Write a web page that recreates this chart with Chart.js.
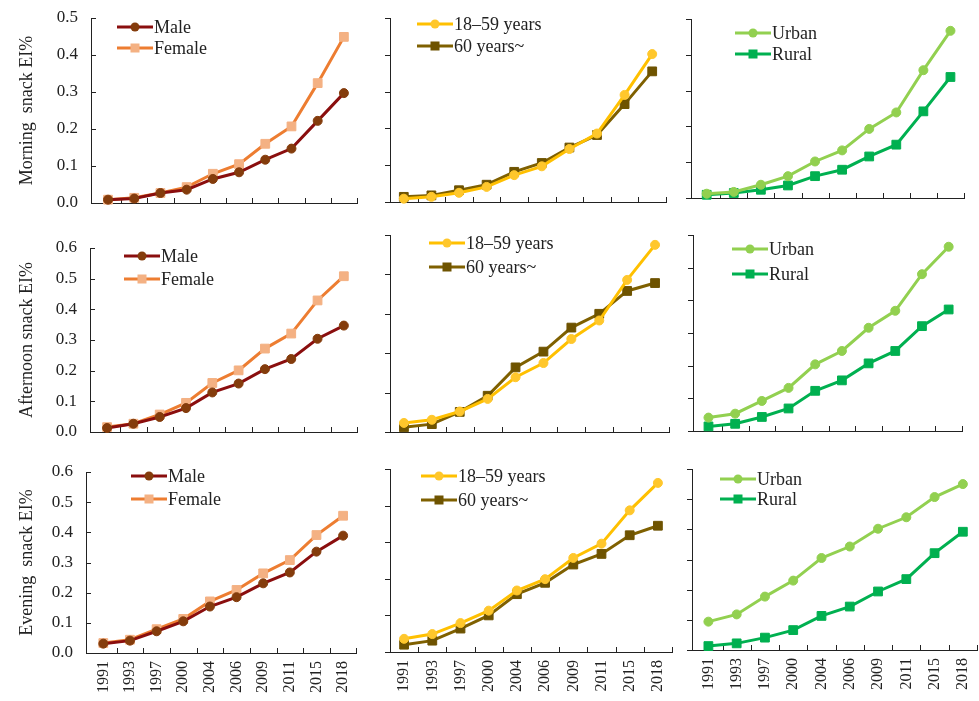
<!DOCTYPE html>
<html>
<head>
<meta charset="utf-8">
<script src="https://cdn.jsdelivr.net/npm/chart.js@4.4.1/dist/chart.umd.min.js"></script>
<style>
  html, body { margin: 0; padding: 0; background: #fff; }
  #wrap { position: relative; width: 979px; height: 701px; overflow: hidden; }
  #wrap canvas { position: absolute; }
</style>
</head>
<body>
<div id="wrap"></div>
<script>
// survey years (x categories)
const years = ["1991", "1993", "1997", "2000", "2004", "2006", "2009", "2011", "2015", "2018"];
const rowTitles = ["Morning  snack EI%", "Afternoon snack EI%", "Evening  snack EI%"];
const groupNames = [["Male", "Female"], ["18–59 years", "60 years~"], ["Urban", "Rural"]];

// morning snack
const morningMale   = [0.009, 0.012, 0.027, 0.036, 0.065, 0.083, 0.117, 0.147, 0.222, 0.297];
const morningFemale = [0.009, 0.014, 0.027, 0.043, 0.079, 0.105, 0.160, 0.207, 0.324, 0.449];
const morningYoung  = [0.009, 0.014, 0.025, 0.041, 0.073, 0.097, 0.144, 0.186, 0.291, 0.402];
const morningOld    = [0.014, 0.018, 0.032, 0.047, 0.082, 0.106, 0.148, 0.182, 0.266, 0.355];
const morningUrban  = [0.012, 0.017, 0.037, 0.061, 0.102, 0.133, 0.193, 0.239, 0.357, 0.467];
const morningRural  = [0.009, 0.014, 0.023, 0.035, 0.061, 0.079, 0.116, 0.149, 0.242, 0.338];

// afternoon snack
const afternoonMale   = [0.013, 0.027, 0.049, 0.078, 0.129, 0.158, 0.205, 0.238, 0.304, 0.347];
const afternoonFemale = [0.016, 0.027, 0.057, 0.095, 0.160, 0.201, 0.272, 0.321, 0.429, 0.508];
const afternoonYoung  = [0.023, 0.031, 0.052, 0.084, 0.139, 0.175, 0.236, 0.283, 0.386, 0.475];
const afternoonOld    = [0.012, 0.020, 0.051, 0.092, 0.164, 0.204, 0.265, 0.300, 0.358, 0.378];
const afternoonUrban  = [0.041, 0.053, 0.092, 0.132, 0.204, 0.245, 0.316, 0.368, 0.480, 0.564];
const afternoonRural  = [0.014, 0.022, 0.043, 0.069, 0.123, 0.155, 0.207, 0.245, 0.321, 0.372];

// evening snack
const eveningMale   = [0.031, 0.041, 0.072, 0.105, 0.154, 0.185, 0.231, 0.267, 0.336, 0.389];
const eveningFemale = [0.033, 0.044, 0.079, 0.113, 0.171, 0.209, 0.264, 0.308, 0.391, 0.455];
const eveningYoung  = [0.036, 0.049, 0.079, 0.113, 0.168, 0.199, 0.257, 0.296, 0.387, 0.462];
const eveningOld    = [0.020, 0.031, 0.064, 0.100, 0.158, 0.189, 0.239, 0.268, 0.319, 0.345];
const eveningUrban  = [0.094, 0.118, 0.177, 0.230, 0.305, 0.343, 0.402, 0.440, 0.507, 0.550];
const eveningRural  = [0.013, 0.022, 0.041, 0.066, 0.113, 0.144, 0.194, 0.235, 0.321, 0.392];

const seriesGrid = [
  [[morningMale, morningFemale], [morningYoung, morningOld], [morningUrban, morningRural]],
  [[afternoonMale, afternoonFemale], [afternoonYoung, afternoonOld], [afternoonUrban, afternoonRural]],
  [[eveningMale, eveningFemale], [eveningYoung, eveningOld], [eveningUrban, eveningRural]]
];
const yMax = [[0.5, 0.5, 0.5], [0.6, 0.5, 0.6], [0.6, 0.5, 0.6]];

// styles: [line colour, marker colour, marker style]
const styles = [
  [["#8a0e0e", "#843c0c", "circle"], ["#ed7d31", "#f4b183", "rect"]],
  [["#ffc000", "#ffc72c", "circle"], ["#7f6000", "#6e5300", "rect"]],
  [["#92d050", "#92d050", "circle"], ["#00b050", "#00b050", "rect"]]
];

// plot boxes [left, top, right, bottom] for each panel
const boxes = [
  [[91, 18, 357, 203], [390, 18, 666, 202], [691, 19, 964, 198]],
  [[90, 248, 357, 432], [390, 235, 669, 432], [693, 235, 962, 431]],
  [[86, 472, 357, 653], [390, 469, 672, 652], [692, 469, 977, 650]]
];
const xMinByCol = [-0.65, -0.5, -0.58];
// legend offsets [dx, dy, gap] from plot corner
const legendPos = [
  [[26, 9, 21], [27, 6, 22], [44, 14, 21]],
  [[34, 8, 23], [39, 8, 24], [39, 14, 25]],
  [[45, 4, 23], [31, 7, 24], [28, 10, 20]]
];

const FONT = "'Liberation Serif', 'Times New Roman', serif";
Chart.defaults.font.family = FONT;
Chart.defaults.color = "#222";

// small axis tick marks: x ticks point up, y ticks point in or out
const tickMarks = {
  id: "tickMarks",
  beforeDatasetsDraw(chart, args, opts) {
    const { ctx, chartArea, scales } = chart;
    const xs = scales.x, ys = scales.y;
    ctx.save();
    ctx.strokeStyle = "#222";
    ctx.lineWidth = 1;
    ctx.beginPath();
    for (let i = 0; i < years.length; i++) {
      const px = Math.round(xs.getPixelForValue(i + 0.5)) + 0.5;
      ctx.moveTo(px, chartArea.bottom);
      ctx.lineTo(px, chartArea.bottom - 5);
    }
    const len = opts.inward ? 5 : -5;
    ys.ticks.forEach(t => {
      const py = Math.round(ys.getPixelForValue(t.value)) + 0.5;
      ctx.moveTo(chartArea.left, py);
      ctx.lineTo(chartArea.left + len, py);
    });
    ctx.stroke();
    ctx.restore();
  }
};

const insideLegend = {
  id: "insideLegend",
  afterDraw(chart, args, opts) {
    const { ctx, chartArea } = chart;
    chart.data.datasets.forEach((ds, i) => {
      const x0 = chartArea.left + opts.dx;
      const yy = chartArea.top + opts.dy + i * opts.gap;
      ctx.save();
      ctx.strokeStyle = ds.borderColor;
      ctx.lineWidth = ds.borderWidth;
      ctx.beginPath();
      ctx.moveTo(x0, yy);
      ctx.lineTo(x0 + 36, yy);
      ctx.stroke();
      ctx.fillStyle = ds.pointBackgroundColor;
      if (ds.pointStyle === "rect") {
        ctx.fillRect(x0 + 13.5, yy - 4.5, 9, 9);
      } else {
        ctx.beginPath();
        ctx.arc(x0 + 18, yy, 4.5, 0, Math.PI * 2);
        ctx.fill();
      }
      ctx.fillStyle = "#222";
      ctx.font = "18px " + FONT;
      ctx.textBaseline = "middle";
      ctx.fillText(ds.label, x0 + 37, yy + 1);
      ctx.restore();
    });
  }
};

const wrap = document.getElementById("wrap");

for (let r = 0; r < 3; r++) {
  for (let c = 0; c < 3; c++) {
    const [left, top, right, bottom] = boxes[r][c];
    // margins around the plot box; the first column needs room for label overflow
    const L = c === 0 ? left : 14;
    const T = c === 0 ? 26 : 14;
    const Rm = 14;
    const B = r === 2 ? 50 : T;
    const canvas = document.createElement("canvas");
    canvas.width = right - left + L + Rm;
    canvas.height = bottom - top + T + B;
    canvas.style.left = (left - L) + "px";
    canvas.style.top = (top - T) + "px";
    wrap.appendChild(canvas);

    const datasets = seriesGrid[r][c].map((vals, k) => ({
      label: groupNames[c][k],
      data: vals.map((v, i) => ({ x: i, y: v })),
      borderColor: styles[c][k][0],
      borderWidth: 3,
      pointBackgroundColor: styles[c][k][1],
      pointBorderColor: styles[c][k][1],
      pointBorderWidth: 1,
      pointStyle: styles[c][k][2],
      pointRadius: styles[c][k][2] === "rect" ? 6.2 : 4.5,
      tension: 0,
      clip: false
    }));

    new Chart(canvas, {
      type: "line",
      data: { datasets },
      plugins: [tickMarks, insideLegend],
      options: {
        responsive: false,
        animation: false,
        events: [],
        layout: { padding: { top: T, right: Rm, left: 0, bottom: 0 } },
        plugins: {
          legend: { display: false },
          tooltip: { enabled: false },
          tickMarks: { inward: c === 0 },
          insideLegend: { dx: legendPos[r][c][0], dy: legendPos[r][c][1], gap: legendPos[r][c][2] }
        },
        scales: {
          x: {
            type: "linear",
            min: xMinByCol[c],
            max: 9.5,
            grid: { display: false, drawTicks: false },
            border: { display: true, color: "#222", width: 1 },
            afterBuildTicks: s => { s.ticks = years.map((y, i) => ({ value: i })); },
            ticks: {
              display: r === 2,
              autoSkip: false,
              minRotation: 90,
              maxRotation: 90,
              padding: 8,
              font: { size: 16 },
              callback: v => years[v]
            },
            afterFit: s => { s.height = B; }
          },
          y: {
            min: 0,
            max: yMax[r][c],
            grid: { display: false, drawTicks: false },
            border: { display: true, color: "#222", width: 1 },
            ticks: {
              display: c === 0,
              stepSize: 0.1,
              padding: 13,
              font: { size: 17 },
              callback: v => v.toFixed(1)
            },
            title: {
              display: c === 0,
              text: rowTitles[r],
              font: { size: 18 },
              padding: { top: 16, bottom: 0 }
            },
            afterFit: s => { s.width = L; }
          }
        }
      }
    });
  }
}
</script>
</body>
</html>
